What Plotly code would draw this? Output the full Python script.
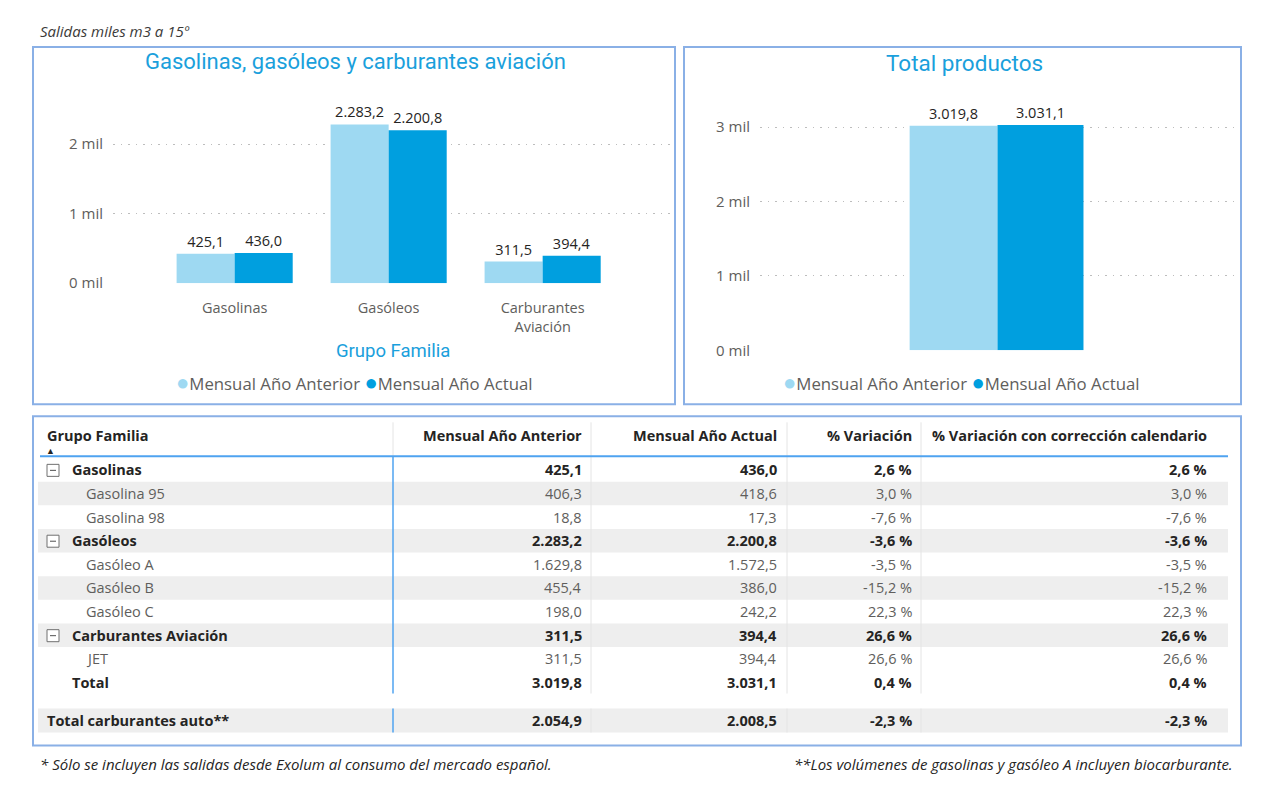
import plotly.graph_objects as go

W, H = 1267, 796
HE = 786.4  # effective vertical pixel scale observed in the rendered page
def px(x): return x / W
def py(y): return 1 - y / HE

# ---------------- data ----------------
categories = ["Gasolinas", "Gasóleos", "Carburantes<br>Aviación"]
cat_anterior = [425.1, 2283.2, 311.5]
cat_actual = [436.0, 2200.8, 394.4]
total_anterior = [3019.8]
total_actual = [3031.1]

series_names = ["Mensual Año Anterior", "Mensual Año Actual"]
left_ticks = [0, 1000, 2000]
left_ticktext = ["0 mil", "1 mil", "2 mil"]
right_ticks = [0, 1000, 2000, 3000]
right_ticktext = ["0 mil", "1 mil", "2 mil", "3 mil"]

table_header = ["Grupo Familia", "Mensual Año Anterior", "Mensual Año Actual",
                "% Variación", "% Variación con corrección calendario"]
row_names = ["Gasolinas", "Gasolina 95", "Gasolina 98", "Gasóleos", "Gasóleo A",
             "Gasóleo B", "Gasóleo C", "Carburantes Aviación", "JET", "Total"]
row_level = [0, 1, 1, 0, 1, 1, 1, 0, 1, 2]
row_anterior = [425.1, 406.3, 18.8, 2283.2, 1629.8, 455.4, 198.0, 311.5, 311.5, 3019.8]
row_actual = [436.0, 418.6, 17.3, 2200.8, 1572.5, 386.0, 242.2, 394.4, 394.4, 3031.1]
row_var = [2.6, 3.0, -7.6, -3.6, -3.5, -15.2, 22.3, 26.6, 26.6, 0.4]
row_var_cal = [2.6, 3.0, -7.6, -3.6, -3.5, -15.2, 22.3, 26.6, 26.6, 0.4]
auto_name = "Total carburantes auto**"
auto_values = [2054.9, 2008.5, -2.3, -2.3]

# ---------------- styles ----------------
C_LIGHT = "#9ED9F2"
C_DARK = "#009FDF"
C_TITLE = "#1AA0DC"
C_BORDER = "#8AB0E6"
C_TEXT = "#252423"
C_SUB = "#605E5C"
FONT = "Open Sans, Segoe UI, sans-serif"
TFONT = "Roboto, sans-serif"
TS = 14.5  # table font size

def es(v, dec=1):
    s = f"{v:,.{dec}f}"
    return s.replace(",", "X").replace(".", ",").replace("X", ".")

fig = go.Figure()

bar_text = dict(texttemplate="%{y:,.1f}", textposition="outside",
                textfont=dict(size=14.5, color=C_TEXT, family=FONT), cliponaxis=False,
                showlegend=False)
# Left chart bars
fig.add_trace(go.Bar(x=categories, y=cat_anterior, name=series_names[0],
                     marker=dict(color=C_LIGHT, line=dict(width=0)),
                     width=0.377, offset=-0.377, xaxis="x", yaxis="y", **bar_text))
fig.add_trace(go.Bar(x=categories, y=cat_actual, name=series_names[1],
                     marker=dict(color=C_DARK, line=dict(width=0)),
                     width=0.377, offset=0.0, xaxis="x", yaxis="y", **bar_text))
# Right chart bars
fig.add_trace(go.Bar(x=["Total"], y=total_anterior, name=series_names[0],
                     marker=dict(color=C_LIGHT, line=dict(width=0)),
                     width=0.185, offset=-0.185, xaxis="x2", yaxis="y2", **bar_text))
fig.add_trace(go.Bar(x=["Total"], y=total_actual, name=series_names[1],
                     marker=dict(color=C_DARK, line=dict(width=0)),
                     width=0.181, offset=0.0, xaxis="x2", yaxis="y2", **bar_text))

grid = dict(showgrid=True, gridcolor="#BDBDBD", griddash="1.5px,6px", gridwidth=1.2,
            zeroline=False, showline=False, ticks="", ticklabelstandoff=9,
            tickfont=dict(size=15, color=C_SUB, family=FONT))

fig.update_layout(
    width=W, height=H, autosize=False,
    margin=dict(l=0, r=0, t=0, b=0),
    paper_bgcolor="white", plot_bgcolor="white",
    separators=",.",
    barmode="group",
    showlegend=False,
    font=dict(family=FONT, color=C_TEXT),
    xaxis=dict(domain=[px(113), px(670)], type="category", range=[-0.79, 2.827],
               showgrid=False, zeroline=False, showline=False, ticks="",
               ticklabelstandoff=14,
               tickfont=dict(size=14.5, color=C_SUB, family=FONT), anchor="y"),
    yaxis=dict(domain=[py(283), py(100)], range=[0, 2633], tickvals=left_ticks,
               ticktext=left_ticktext, anchor="x", **grid),
    xaxis2=dict(domain=[px(760), px(1235)], type="category", range=[-0.5, 0.5],
                showgrid=False, zeroline=False, showline=False, ticks="",
                showticklabels=False, anchor="y2"),
    yaxis2=dict(domain=[py(350), py(100)], range=[0, 3365], tickvals=right_ticks,
                ticktext=right_ticktext, anchor="x2", **grid),
)

shapes = []
ann = []

def A(x, y, text, size=TS, color=C_TEXT, family=FONT, xanchor="left", weight=None):
    f = dict(size=size, color=color, family=family)
    if weight:
        f["weight"] = weight
    ann.append(dict(x=px(x), y=py(y), xref="paper", yref="paper", text=text,
                    showarrow=False, xanchor=xanchor, yanchor="middle", font=f))

def L(x0, y0, x1, y1, color, width):
    shapes.append(dict(type="line", xref="paper", yref="paper", x0=px(x0), x1=px(x1),
                       y0=py(y0), y1=py(y1), line=dict(color=color, width=width)))

def R(x0, y0, x1, y1, fill, line_color=None, lw=0, layer="above"):
    shapes.append(dict(type="rect", xref="paper", yref="paper", x0=px(x0), x1=px(x1),
                       y0=py(y1), y1=py(y0), fillcolor=fill,
                       line=dict(color=line_color or "rgba(0,0,0,0)", width=lw), layer=layer))

# Panel borders
for (x0, y0, x1, y1) in [(33, 47, 675, 404), (684, 47, 1241, 404), (33, 416, 1241, 745)]:
    R(x0, y0, x1, y1, "rgba(0,0,0,0)", C_BORDER, 2)

# Top note
A(38, 31, "<i>Salidas miles m3 a 15º</i>", size=15, color="#3B3A39")
# Titles
A(355, 61, "Gasolinas, gasóleos y carburantes aviación", size=22, color=C_TITLE,
  family=TFONT, xanchor="center")
A(964, 63, "Total productos", size=22.5, color=C_TITLE, family=TFONT, xanchor="center")
# X axis title
A(393, 351, "Grupo Familia", size=18.5, color=C_TITLE, family=TFONT, xanchor="center")
# Legends
leg = (f"<span style='color:{C_LIGHT};font-size:22px'>●</span>{series_names[0]} "
       f"<span style='color:{C_DARK};font-size:22px'>●</span>{series_names[1]}")
for cx in (354, 961):
    A(cx, 381, leg, size=16.8, color=C_SUB, xanchor="center")

# ---------------- table ----------------
col_right = [584, 779, 914, 1209]
header_y = 435
row_y0, row_h = 469.5, 23.6
auto_y = 720
band_x0, band_x1 = 38, 1228

A(45, header_y, f"<b>{table_header[0]}</b>")
A(50, 450, "▲", size=9, xanchor="center")
for j, h in enumerate(table_header[1:]):
    A(col_right[j], header_y, f"<b>{h}</b>", xanchor="right")

# bands (alternate rows, total row excluded)
for i in range(len(row_names)):
    if i % 2 == 1 and row_level[i] != 2:
        yc = row_y0 + row_h * i
        R(band_x0, yc - row_h / 2, band_x1, yc + row_h / 2, "#EEEEEE", layer="below")
R(band_x0, auto_y - 12, band_x1, auto_y + 12, "#EEEEEE", layer="below")

# column separators
for xs in (591, 787, 921):
    for (a, b) in [(422, 693), (708, 732)]:
        L(xs, a, xs, b, "#E4E4E4", 1)
L(393, 422, 393, 456, "#E4E4E4", 1)
for (a, b) in [(456, 693), (708, 732)]:
    L(393, a, 393, b, "#4FA3F0", 1.5)
L(40, 456, band_x1, 456, "#4FA3F0", 2)

# rows
for i, name in enumerate(row_names):
    yc = row_y0 + row_h * i
    lvl = row_level[i]
    bold = lvl in (0, 2)
    color = C_TEXT if bold else C_SUB
    fmt = (lambda t: f"<b>{t}</b>") if bold else (lambda t: t)
    if lvl == 0:
        R(47, yc - 5.5, 59, yc + 6.5, "white", "#707070", 1)
        L(50, yc + 0.5, 56, yc + 0.5, "#505050", 1)
    name_x = 84 if lvl == 1 else 70
    A(name_x, yc, fmt(name), color=color)
    vals = [es(row_anterior[i]), es(row_actual[i]), es(row_var[i]) + " %", es(row_var_cal[i]) + " %"]
    for j, v in enumerate(vals):
        A(col_right[j], yc, fmt(v), color=color, xanchor="right")

A(45, auto_y, f"<b>{auto_name}</b>")
auto_txt = [es(auto_values[0]), es(auto_values[1]), es(auto_values[2]) + " %", es(auto_values[3]) + " %"]
for j, v in enumerate(auto_txt):
    A(col_right[j], auto_y, f"<b>{v}</b>", xanchor="right")

# footnotes
A(38, 763, "<i>* Sólo se incluyen las salidas desde Exolum al consumo del mercado español.</i>", size=15)
A(1235, 763, "<i>**Los volúmenes de gasolinas y gasóleo A incluyen biocarburante.</i>", size=15,
  xanchor="right")

fig.update_layout(shapes=shapes, annotations=ann)
fig.write_html("out.html")
